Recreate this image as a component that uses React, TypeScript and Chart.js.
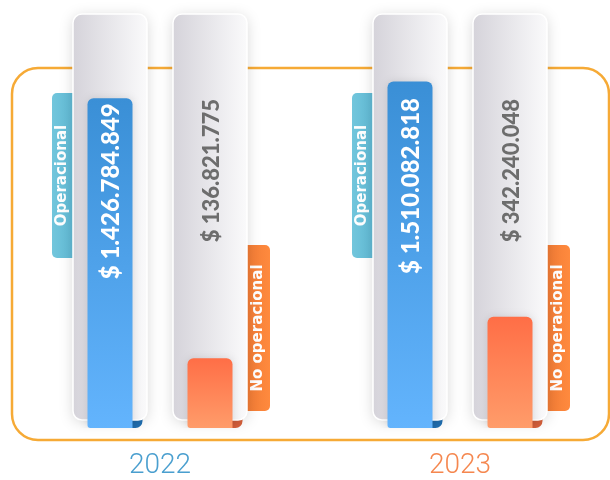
import React, { useEffect, useRef } from 'react';
import { Chart, registerables } from 'chart.js';

Chart.register(...registerables);

const categories = ['2022', '2023'];
const seriesNames = ['Operacional', 'No operacional'];
const operacional = [1426784849, 1510082818];
const noOperacional = [136821775, 342240048];
const yearColors = ['#4a9fcf', '#f5874f'];

const Y_MIN = -210e6;
const Y_MAX = 1845e6;

const fmt = (v: number) => '$ ' + String(v).replace(/\B(?=(\d{3})+(?!\d))/g, '.');

function rr(ctx: CanvasRenderingContext2D, x: number, y: number, w: number, h: number, r: number[]) {
  const [tl, tr, br, bl] = r;
  ctx.beginPath();
  ctx.moveTo(x + tl, y);
  ctx.lineTo(x + w - tr, y);
  ctx.arcTo(x + w, y, x + w, y + tr, tr);
  ctx.lineTo(x + w, y + h - br);
  ctx.arcTo(x + w, y + h, x + w - br, y + h, br);
  ctx.lineTo(x + bl, y + h);
  ctx.arcTo(x, y + h, x, y + h - bl, bl);
  ctx.lineTo(x, y + tl);
  ctx.arcTo(x, y, x + tl, y, tl);
  ctx.closePath();
}

function rotText(ctx: CanvasRenderingContext2D, text: string, x: number, y: number, align: CanvasTextAlign, font: string, color: string) {
  ctx.save();
  ctx.translate(x, y);
  ctx.rotate(-Math.PI / 2);
  ctx.font = font;
  ctx.fillStyle = color;
  ctx.textAlign = align;
  ctx.textBaseline = 'middle';
  ctx.fillText(text, 0, 0);
  ctx.restore();
}

const trackGeom = (bar: any) => {
  const w = (bar.width / 0.45) * 0.74;
  return { l: bar.x - w / 2, r: bar.x + w / 2, w };
};

const TAB_FONT = 'bold 15px "DejaVu Sans"';

const decor = {
  id: 'decor',
  beforeDatasetsDraw(chart: any) {
    const ctx: CanvasRenderingContext2D = chart.ctx;
    const a = chart.chartArea;
    const metas = [chart.getDatasetMeta(0), chart.getDatasetMeta(1)];

    // frame
    ctx.save();
    ctx.strokeStyle = '#f6aa36';
    ctx.lineWidth = 2.5;
    rr(ctx, a.left + 2, a.top + 54, a.right - a.left - 3, a.bottom - a.top - 42, [26, 26, 26, 26]);
    ctx.stroke();
    ctx.restore();

    categories.forEach((_, i) => {
      // Operacional tab
      const b0: any = metas[0].data[i];
      const t0 = trackGeom(b0);
      const ty = a.top + 79, th = 165;
      ctx.save();
      let g = ctx.createLinearGradient(t0.l - 21, 0, t0.l + 10, 0);
      g.addColorStop(0, '#72c6dc');
      g.addColorStop(1, '#58b4d2');
      ctx.fillStyle = g;
      rr(ctx, t0.l - 21, ty, 31, th, [5, 5, 5, 5]);
      ctx.fill();
      ctx.restore();
      rotText(ctx, seriesNames[0], t0.l - 10.5, ty + th / 2, 'center', TAB_FONT, '#ffffff');

      // No operacional tab
      const b1: any = metas[1].data[i];
      const t1 = trackGeom(b1);
      const oy = a.top + 231, oh = 166;
      ctx.save();
      g = ctx.createLinearGradient(t1.r - 10, 0, t1.r + 23, 0);
      g.addColorStop(0, '#ec7531');
      g.addColorStop(1, '#ff8a3e');
      ctx.fillStyle = g;
      rr(ctx, t1.r - 10, oy, 33, oh, [5, 5, 5, 5]);
      ctx.fill();
      ctx.restore();
      rotText(ctx, seriesNames[1], t1.r + 11.5, oy + oh / 2, 'center', TAB_FONT, '#ffffff');
    });

    // curls + tracks
    metas.forEach((meta, di) => {
      meta.data.forEach((bar: any) => {
        const t = trackGeom(bar);
        const bot = bar.base - 8;
        ctx.save();
        ctx.fillStyle = di === 0 ? '#1f6fb2' : '#d8603b';
        rr(ctx, bar.x + bar.width / 2 - 4, bot - 8, 14, bar.base - bot + 8, [0, 0, 7, 0]);
        ctx.fill();
        ctx.restore();

        ctx.save();
        ctx.shadowColor = 'rgba(0,0,0,0.16)';
        ctx.shadowBlur = 14;
        ctx.shadowOffsetY = 2;
        const g = ctx.createLinearGradient(t.l, 0, t.r, 0);
        g.addColorStop(0, '#d5d3da');
        g.addColorStop(1, '#fafafb');
        ctx.fillStyle = g;
        rr(ctx, t.l, a.top, t.w, bot - a.top, [9, 9, 9, 9]);
        ctx.fill();
        ctx.shadowColor = 'transparent';
        ctx.strokeStyle = '#ffffff';
        ctx.lineWidth = 1.5;
        ctx.stroke();
        ctx.restore();
      });
    });

    ctx.save();
    ctx.shadowColor = 'rgba(0,0,0,0.12)';
    ctx.shadowBlur = 8;
  },
  afterDatasetsDraw(chart: any) {
    const ctx: CanvasRenderingContext2D = chart.ctx;
    ctx.restore();
    const a = chart.chartArea;
    const m0 = chart.getDatasetMeta(0);
    const m1 = chart.getDatasetMeta(1);
    m0.data.forEach((bar: any, i: number) => {
      const top = Math.max(a.top + 84, bar.y + 5);
      rotText(ctx, fmt(operacional[i]), bar.x + 1, top, 'right', '900 24px Lato', '#ffffff');
    });
    m1.data.forEach((bar: any, i: number) => {
      rotText(ctx, fmt(noOperacional[i]), bar.x + 2, a.top + 85, 'right', '900 22px Lato', '#6d6d6d');
    });
  },
};

const grad = (top: string, bottom: string, fallback: string) => (c: any) => {
  const chart = c.chart;
  if (!chart.chartArea || c.raw === undefined) return fallback;
  const y = chart.scales.y;
  const t = y.getPixelForValue(c.raw);
  const g = chart.ctx.createLinearGradient(0, t, 0, y.bottom);
  g.addColorStop(0, top);
  g.addColorStop(1, bottom);
  return g;
};

export default function App() {
  const ref = useRef<HTMLCanvasElement>(null);
  useEffect(() => {
    if (!ref.current) return;
    const chart = new Chart(ref.current, {
      type: 'bar',
      data: {
        labels: categories,
        datasets: [
          {
            label: seriesNames[0],
            data: operacional,
            base: Y_MIN,
            backgroundColor: grad('#3a8fd6', '#63b4fd', '#4fa3ea'),
            borderRadius: { topLeft: 6, topRight: 6, bottomLeft: 3, bottomRight: 0 },
            borderSkipped: false,
          } as any,
          {
            label: seriesNames[1],
            data: noOperacional,
            base: Y_MIN,
            backgroundColor: grad('#ff6e46', '#ff9c6a', '#ff8558'),
            borderRadius: { topLeft: 6, topRight: 6, bottomLeft: 3, bottomRight: 0 },
            borderSkipped: false,
          } as any,
        ],
      },
      options: {
        animation: false,
        responsive: false,
        events: [],
        layout: { padding: { left: 10, right: 0, top: 14, bottom: 0 } },
        datasets: { bar: { categoryPercentage: 2 / 3, barPercentage: 0.45 } },
        plugins: { legend: { display: false }, tooltip: { enabled: false } },
        scales: {
          x: {
            grid: { display: false, drawTicks: false },
            border: { display: false },
            afterFit: (scale: any) => {
              scale.height = 52;
            },
            ticks: {
              padding: 21,
              color: (c: any) => yearColors[c.index] || '#4a9fcf',
              font: { family: 'Roboto', size: 28, weight: 300 as any },
            },
          },
          y: { display: false, min: Y_MIN, max: Y_MAX },
        },
      },
      plugins: [decor],
    });
    return () => chart.destroy();
  }, []);
  return (
    <div style={{ position: 'fixed', left: 0, top: 0, width: 610, height: 480, background: '#fff' }}>
      <canvas ref={ref} width={610} height={480} style={{ display: 'block', width: 610, height: 480 }} />
    </div>
  );
}
